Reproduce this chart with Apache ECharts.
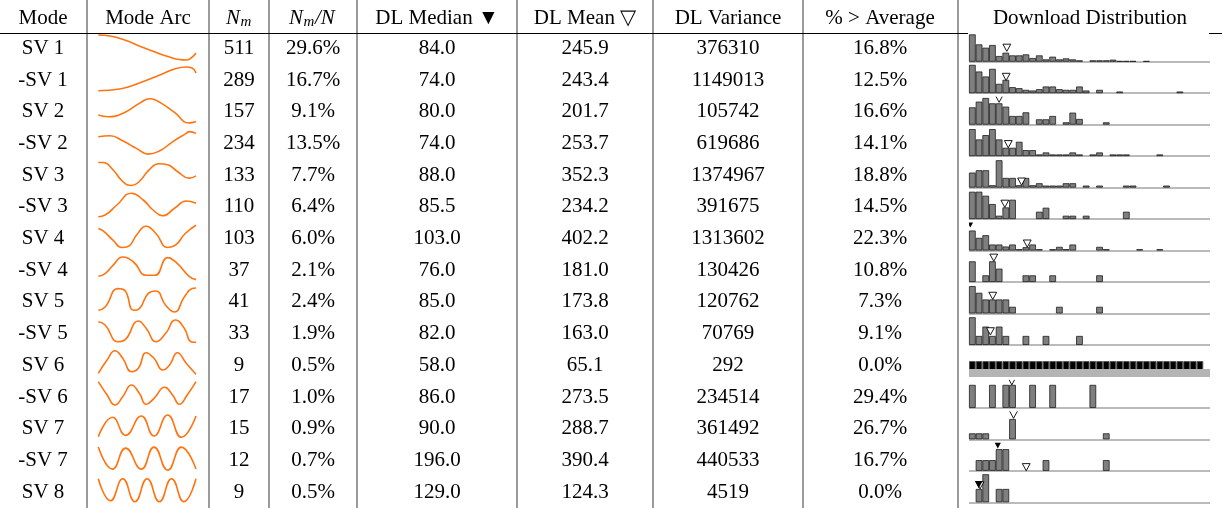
<!DOCTYPE html>
<html><head><meta charset="utf-8">
<script src="https://cdn.jsdelivr.net/npm/echarts@6/dist/echarts.min.js"></script>
<style>html,body{margin:0;padding:0;background:#fff}#c{width:1222px;height:508px}</style>
</head><body><div id="c"></div>
<script>
// ---------- DATA ----------
const modes = ['SV 1','-SV 1','SV 2','-SV 2','SV 3','-SV 3','SV 4','-SV 4','SV 5','-SV 5','SV 6','-SV 6','SV 7','-SV 7','SV 8'];
const nM = [511,289,157,234,133,110,103,37,41,33,9,17,15,12,9];
const nFrac = [29.6,16.7,9.1,13.5,7.7,6.4,6.0,2.1,2.4,1.9,0.5,1.0,0.9,0.7,0.5];
const dlMedian = [84.0,74.0,80.0,74.0,88.0,85.5,103.0,76.0,85.0,82.0,58.0,86.0,90.0,196.0,129.0];
const dlMean = [245.9,243.4,201.7,253.7,352.3,234.2,402.2,181.0,173.8,163.0,65.1,273.5,288.7,390.4,124.3];
const dlVariance = [376310,1149013,105742,619686,1374967,391675,1313602,130426,120762,70769,292,234514,361492,440533,4519];
const pctAbove = [16.8,12.5,16.6,14.1,18.8,14.5,22.3,10.8,7.3,9.1,0.0,29.4,26.7,16.7,0.0];
const headers = ['Mode','Mode Arc','','','DL Median \u25BC','DL Mean \u25BD','DL Variance','% > Average','Download Distribution'];

// mode arcs: [position along mode (0..1), value]
const arcSV1  = [[0,13],[0.12,12],[0.27,8],[0.42,2],[0.58,-4],[0.73,-9],[0.83,-11.5],[0.90,-12],[0.95,-10],[1,-5]];
const arcNSV1 = [[0,-11],[0.22,-9.3],[0.42,-3.3],[0.63,4.7],[0.78,10.7],[0.90,12.7],[0.96,11.7],[1,6.7]];
const arcSV2  = [[0,-3.6],[0.10,-5.3],[0.27,-1],[0.42,8],[0.53,12.7],[0.63,9],[0.78,-1],[0.93,-11.5],[1,-10]];
const arcNSV2 = [[0,6.3],[0.12,7.3],[0.25,2.3],[0.39,-5.3],[0.51,-11],[0.63,-7.7],[0.76,1.3],[0.90,9.7],[0.93,11.5],[1,9.7]];
const arcSV3  = [[0,12.3],[0.05,12.3],[0.15,5],[0.25,-6.7],[0.34,-10.7],[0.42,-6.7],[0.52,5],[0.62,11],[0.71,10],[0.81,3.3],[0.93,-3.3],[1,-1]];
const arcNSV3 = [[0,-10.2],[0.07,-8.5],[0.19,1.5],[0.34,13.3],[0.46,6.5],[0.56,-3.5],[0.66,-9.2],[0.78,-1.8],[0.90,5.5],[1,3.2]];
const arcSV4  = [[0,9.7],[0.05,7.3],[0.15,-2],[0.24,-9.3],[0.31,-8],[0.39,3],[0.49,12],[0.59,4.7],[0.71,-9.3],[0.79,-7],[0.89,4.7],[1,13]];
const arcNSV4 = [[0,-6.4],[0.07,-3.7],[0.15,4.6],[0.25,12.9],[0.36,7.9],[0.49,-5.4],[0.58,-5.4],[0.71,12.3],[0.81,6.3],[0.93,-6.4],[1,-9.7]];
const arcSV5  = [[0,-8.7],[0.07,-5.4],[0.20,13],[0.27,11.3],[0.36,-8.7],[0.42,-7],[0.51,8],[0.59,10.6],[0.69,-3.7],[0.78,-10.4],[0.88,4.6],[0.96,13],[1,13.6]];
const arcNSV5 = [[0,11.6],[0.07,8.3],[0.20,-8.4],[0.27,-6.7],[0.41,12.3],[0.49,5],[0.59,-8.4],[0.69,0],[0.79,13.3],[0.88,5],[0.95,-8.4],[1,-9]];
const arcSV6  = [[0,-8.3],[0.09,5],[0.17,14.3],[0.25,6.7],[0.34,-6.7],[0.41,-3.3],[0.49,12.3],[0.57,6.7],[0.66,-5],[0.73,0],[0.81,12.3],[0.90,1.7],[1,-9.3]];
const arcNSV6 = [[0,15],[0.09,1.7],[0.17,-8.3],[0.25,0],[0.34,11.7],[0.42,3.4],[0.49,-7.6],[0.57,-1.6],[0.68,9.4],[0.76,1.7],[0.83,-7.6],[0.91,1.7],[1,15]];
const arcSV7  = [[0,-8.3],[0.146,11.1],[0.28,-7],[0.44,12.4],[0.57,-7.6],[0.71,13.4],[0.85,-8.9],[1,12.4]];
const arcNSV7 = [[0,13],[0.146,-9],[0.28,12],[0.44,-9],[0.57,13],[0.71,-10],[0.85,13],[1,-9]];
const arcSV8  = [[0,13],[0.125,-9],[0.25,13],[0.375,-10],[0.5,13],[0.625,-10],[0.75,13],[0.875,-10],[1,13]];
const modeArcs = [arcSV1,arcNSV1,arcSV2,arcNSV2,arcSV3,arcNSV3,arcSV4,arcNSV4,arcSV5,arcNSV5,arcSV6,arcNSV6,arcSV7,arcNSV7,arcSV8];

// download distribution histograms (36 bins, relative heights)
const histSV1  = [82,52,42,50,17,27,19,19,22,11,19,7,15,7,10,7,4,0,4,4,4,6,2,2,2,0,2];
const histNSV1 = [85,65,50,73,28,40,18,15,10,8,12,20,20,12,10,10,20,8,0,10,0,0,5,0,0,0,0,0,0,0,0,5];
const histSV2  = [52,69,80,64,64,54,26,26,37,0,16,16,26,0,7,36,17,0,0,0,7];
const histNSV2 = [81,50,63,81,50,25,25,43,18,18,5,11,5,5,5,11,5,0,5,11,0,5,5,5,0,0,0,0,5];
const histSV3  = [45,52,52,7,82,29,29,7,29,7,13,6,6,6,13,13,0,6,0,6,0,0,0,6,6,0,0,0,0,6];
const histNSV3 = [82,82,70,45,10,35,58,0,0,0,22,34,0,0,10,10,0,10,0,0,0,0,0,22];
const histSV4  = [60,38,46,18,18,12,18,4,10,18,4,0,4,11,4,18,0,0,0,11,4,0,0,0,0,4,0,0,4];
const histNSV4 = [62,0,20,62,40,0,0,0,20,20,0,0,20,0,0,0,0,0,0,20];
const histSV5  = [82,62,42,42,42,42,20,0,0,0,0,0,0,20,0,0,0,0,0,20];
const histNSV5 = [83,27,55,27,55,27,0,0,27,0,0,27,0,0,0,0,27];
const histSV6  = [34,34,34,34,34,34,34,34,34,34,34,34,34,34,34,34,34,34,34,34,34,34,34,34,34,34,34,34,34,34,34,34,34,34,34];
const histNSV6 = [69,0,0,69,0,69,69,0,0,69,0,0,69,0,0,0,0,0,69];
const histSV7  = [18,18,18,0,0,0,61,0,0,0,0,0,0,0,0,0,0,0,0,0,18];
const histNSV7 = [0,32,32,32,65,65,0,0,0,0,0,32,0,0,0,0,0,0,0,0,32];
const histSV8  = [0,40,84,0,40,40];
const hists = [histSV1,histNSV1,histSV2,histNSV2,histSV3,histNSV3,histSV4,histNSV4,histSV5,histNSV5,histSV6,histNSV6,histSV7,histNSV7,histSV8];
const binCount = 36;

// mean (▽) and median (▼) markers: bin position, height of marker tip
const meanMarkX   = [5.15,5.05,4.0,5.37,7.35,4.85,8.2,3.2,3.05,2.7,null,5.9,6.15,8.05,1.15];
const meanMarkTip = [31,38,67,25,7,35,10,62,42,30,null,69,63,0,40];
const medMarkX    = [null,null,null,null,null,null,-0.3,null,null,null,null,null,null,3.8,0.95];
const medMarkTip  = [null,null,null,null,null,null,69,null,null,null,null,null,null,67,42];

// ---------- LAYOUT ----------
const FONT = "'Liberation Serif','Times New Roman',serif";
const FS = 21;
const vLines = [87,209,269,357,517,653,803,958];
const colC = [43,148,239,313,437,585,728,880,1090];
const headY = 18.5, rowY0 = 48.3, rowH = 31.7;
const arcLeft = 98.3, arcW = 97.7;
const histLeft = 969, histW = 241, histH = 28, histBase0 = 61.7, histPitch = 31.47;

const chart = echarts.init(document.getElementById('c'), null, {renderer:'canvas', width:1222, height:508});

const grids = [], xAxes = [], yAxes = [], series = [], graphics = [];
const hidden = {show:false};

function txt(x, y, s, o) {
  o = o || {};
  return {type:'text', x:x, y:y, silent:true, style:{
    text:s, fontFamily:FONT, fontSize:o.size||FS, fontStyle:o.italic?'italic':'normal',
    fill:'#000', align:o.align||'center', verticalAlign:'middle',
    textAlign:o.align||'center', textVerticalAlign:'middle'}};
}

function clipPoly(pts, L, T, R) {
  const edges = [
    [p => p[0] >= L, (a,b) => { const t=(L-a[0])/(b[0]-a[0]); return [L, a[1]+t*(b[1]-a[1])]; }],
    [p => p[1] >= T, (a,b) => { const t=(T-a[1])/(b[1]-a[1]); return [a[0]+t*(b[0]-a[0]), T]; }],
    [p => p[0] <= R, (a,b) => { const t=(R-a[0])/(b[0]-a[0]); return [R, a[1]+t*(b[1]-a[1])]; }]
  ];
  for (const [ins, isect] of edges) {
    const out = [];
    for (let i=0;i<pts.length;i++){
      const cur=pts[i], prev=pts[(i+pts.length-1)%pts.length];
      const ci=ins(cur), pi=ins(prev);
      if (ci) { if (!pi) out.push(isect(prev,cur)); out.push(cur); }
      else if (pi) out.push(isect(prev,cur));
    }
    pts = out; if (!pts.length) break;
  }
  return pts;
}

function markerRender(params, api) {
  const p = api.coord([api.value(0), api.value(1)]);
  const kind = api.value(2);
  const cs = params.coordSys;
  const w = 3.9, h = 7.2;
  const L = cs.x, T = cs.y, R = cs.x + cs.width;
  const pts = clipPoly([[p[0]-w,p[1]-h],[p[0]+w,p[1]-h],[p[0],p[1]]], L, T, R);
  if (!pts.length) return null;
  const children = [{type:'polygon', shape:{points:pts}, style:{fill: kind===1 ? '#000' : '#fff', stroke:null}}];
  if (kind === 0) {
    for (let i=0;i<pts.length;i++){
      const a=pts[i], b=pts[(i+1)%pts.length];
      const onT = Math.abs(a[1]-T)<0.01 && Math.abs(b[1]-T)<0.01;
      const onL = Math.abs(a[0]-L)<0.01 && Math.abs(b[0]-L)<0.01;
      if (onT || onL) continue;
      children.push({type:'line', shape:{x1:a[0],y1:a[1],x2:b[0],y2:b[1]}, style:{stroke:'#000', lineWidth:0.9}});
    }
  }
  return {type:'group', children};
}

const cats = Array.from({length:binCount}, (_, k) => 'b' + k);

modes.forEach((m, i) => {
  const cy = rowY0 + rowH * i;
  const cArc = 48 + rowH * i;
  // ---- arc grid ----
  let gi = grids.length;
  grids.push({left:arcLeft, top:cArc-15, width:arcW, height:30, outerBoundsMode:'none'});
  xAxes.push({type:'value', gridIndex:gi, min:0, max:1, show:false});
  yAxes.push({type:'value', gridIndex:gi, min:-15, max:15, show:false});
  series.push({type:'line', xAxisIndex:xAxes.length-1, yAxisIndex:yAxes.length-1, data:modeArcs[i],
    smooth:0.5, showSymbol:false, symbol:'none', silent:true,
    lineStyle:{color:'#ff7410', width:1.6}});
  // ---- histogram grid ----
  const h = hists[i];
  const flat = h.length > 30 && h.every(v => v === h[0]);
  const base = histBase0 + histPitch * i - (flat ? 4 : 0);
  gi = grids.length;
  grids.push({left:histLeft, top:base-histH, width:histW, height:histH, outerBoundsMode:'none'});
  xAxes.push({type:'category', gridIndex:gi, data:cats, boundaryGap:true, z: flat ? 5 : 0,
    axisLine:{show:true, onZero:false, lineStyle:{color: flat ? '#b4b4b4' : '#a3a3a3', width: flat ? 8 : 1.5, cap:'butt'}},
    axisTick:hidden, axisLabel:hidden, splitLine:hidden});
  const catIdx = xAxes.length-1;
  xAxes.push({type:'value', gridIndex:gi, min:-0.5, max:binCount-0.5, show:false});
  const valIdx = xAxes.length-1;
  yAxes.push({type:'value', gridIndex:gi, min:0, max:84, show:false});
  const yIdx = yAxes.length-1;
  series.push({type:'bar', xAxisIndex:catIdx, yAxisIndex:yIdx, silent:true,
    data: h.map(v => v === 0 ? null : v), barWidth:'100%', barCategoryGap:'0%', barGap:'0%',
    itemStyle: flat ? {color:'#000', borderColor:'#555', borderWidth:1}
                    : {color:'#7f7f7f', borderColor:'#1e1e1e', borderWidth:0.8}});
  const marks = [];
  if (meanMarkX[i] !== null) marks.push([meanMarkX[i], meanMarkTip[i], 0]);
  if (medMarkX[i] !== null) marks.push([medMarkX[i], medMarkTip[i], 1]);
  if (marks.length) series.push({type:'custom', xAxisIndex:valIdx, yAxisIndex:yIdx, clip:false, silent:true, z:4,
    data:marks, encode:{x:0, y:1}, renderItem:markerRender});

  // ---- row texts ----
  graphics.push(txt(colC[0], cy, m));
  graphics.push(txt(colC[2], cy, String(nM[i])));
  graphics.push(txt(colC[3], cy, nFrac[i].toFixed(1) + '%'));
  graphics.push(txt(colC[4], cy, dlMedian[i].toFixed(1)));
  graphics.push(txt(colC[5], cy, dlMean[i].toFixed(1)));
  graphics.push(txt(colC[6], cy, String(dlVariance[i])));
  graphics.push(txt(colC[7], cy, pctAbove[i].toFixed(1) + '%'));
});

// headers
headers.forEach((hd, k) => { if (hd) graphics.push(txt(colC[k], headY, hd)); });
// N_m
graphics.push(txt(226, headY, 'N', {italic:true, align:'left'}));
graphics.push(txt(240.5, headY + 4, 'm', {italic:true, align:'left', size:15}));
// N_m / N
graphics.push(txt(289, headY, 'N', {italic:true, align:'left'}));
graphics.push(txt(303.5, headY + 4, 'm', {italic:true, align:'left', size:15}));
graphics.push(txt(315, headY, '/N', {italic:true, align:'left'}));

// rules
vLines.forEach(x => graphics.push({type:'line', silent:true, shape:{x1:x, y1:0, x2:x, y2:508}, style:{stroke:'#707070', lineWidth:1.4}}));
graphics.push({type:'line', silent:true, shape:{x1:0, y1:33.5, x2:968, y2:33.5}, style:{stroke:'#000', lineWidth:1}});
graphics.push({type:'line', silent:true, shape:{x1:1209, y1:33.5, x2:1222, y2:33.5}, style:{stroke:'#000', lineWidth:1}});

chart.setOption({
  animation:false,
  backgroundColor:'#fff',
  grid:grids, xAxis:xAxes, yAxis:yAxes, series:series,
  graphic:{elements:graphics}
});
</script>
</body></html>
